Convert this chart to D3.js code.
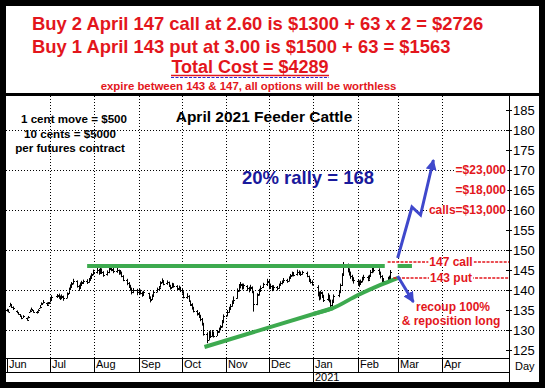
<!DOCTYPE html>
<html>
<head>
<meta charset="utf-8">
<script src="https://cdn.jsdelivr.net/npm/d3@7"></script>
<style>
body { margin: 0; background: #fff; }
svg { display: block; font-family: "Liberation Sans", Arial, sans-serif; }
</style>
</head>
<body>
<svg width="545" height="388"></svg>
<script>
// trading calendar (weekdays minus exchange holidays)
var firstDay = "2020-06-01", lastDay = "2021-02-24";
var holidays = ["2020-07-03", "2020-09-07", "2020-11-26", "2020-12-25", "2021-01-01", "2021-01-18", "2021-02-15"];

// daily bars, one line per month Jun..Feb
var opens = [
  135.1,135.0,136.0,136.2,135.7,134.8,134.4,133.9,133.5,133.1,133.0,133.0,134.5,135.0,134.9,134.5,134.7,135.5,136.3,136.8,136.8,136.5,
  137.0,137.7,138.4,138.8,138.2,137.9,138.3,138.0,139.2,140.3,140.9,141.7,142.2,140.9,140.5,141.4,141.9,142.3,142.1,142.7,143.1,143.9,
  144.5,144.9,144.3,145.1,144.5,143.9,144.5,145.3,145.8,145.1,144.7,145.0,144.3,144.5,143.5,142.6,141.7,141.1,140.4,139.5,140.1,
  139.5,139.9,139.3,138.9,139.2,138.1,137.7,138.7,139.6,140.3,140.8,141.9,142.3,141.7,141.9,141.1,140.7,141.3,141.0,140.3,140.7,
  140.1,139.5,138.2,138.5,137.2,136.3,135.5,134.8,134.1,133.5,132.8,131.4,129.1,127.6,129.1,128.6,129.3,128.6,129.7,130.2,130.9,132.1,
  133.6,134.5,135.3,136.1,137.0,138.0,139.9,140.7,141.3,140.5,141.0,140.4,140.1,140.6,139.4,136.6,138.9,139.9,140.7,141.5,
  142.0,140.7,141.0,140.3,140.7,140.5,141.3,141.7,142.1,142.5,142.3,143.1,143.7,144.2,143.9,144.6,144.1,144.0,144.3,143.5,142.3,142.0,
  140.8,139.1,138.0,139.3,138.5,137.7,138.7,137.3,136.2,137.1,138.7,139.5,141.3,143.9,146.2,145.1,144.2,143.5,142.9,
  142.2,141.9,141.5,142.1,142.8,143.3,142.7,143.5,144.6,145.2,145.0,144.2,143.4,142.5,142.3,142.8,142.9
];

var highs = [
  135.3,135.2,136.8,136.4,135.9,134.9,134.5,134.0,133.6,133.7,133.1,133.5,135.1,135.6,135.0,134.7,135.2,136.1,136.9,137.5,136.9,137.0,
  138.2,138.7,139.0,139.1,138.6,138.9,138.6,139.4,140.6,141.4,142.0,142.8,142.4,141.3,141.9,142.3,142.6,142.7,143.0,143.6,144.2,145.1,
  145.5,145.3,145.6,145.4,144.7,144.9,145.8,146.0,145.9,145.6,145.5,145.1,145.0,144.6,143.7,142.8,142.0,141.3,140.6,140.5,140.3,
  140.4,140.1,139.6,139.8,139.3,138.4,138.9,139.9,140.6,141.0,142.2,142.9,142.5,142.4,142.1,141.3,141.8,141.7,141.2,141.1,140.8,
  140.3,139.7,139.2,138.7,137.4,136.7,135.8,135.0,134.5,133.8,133.0,131.8,129.4,129.8,129.7,130.0,129.6,130.0,130.6,131.2,132.5,133.9,
  135.0,135.8,136.5,137.4,138.4,140.4,141.5,142.0,141.6,141.6,141.2,140.8,141.3,140.9,139.8,139.2,140.3,141.1,141.8,142.8,
  142.6,141.6,141.2,141.2,141.0,141.6,142.2,142.4,143.0,142.8,143.4,144.0,144.6,144.5,145.1,144.9,144.6,144.8,144.6,143.6,142.8,142.4,
  141.2,139.6,139.8,139.6,138.8,139.2,138.8,137.6,137.6,138.9,139.8,141.6,144.2,147.0,146.6,145.4,144.6,143.8,143.2,
  142.6,142.4,142.6,143.3,143.8,143.6,143.8,145.0,145.9,145.8,145.4,144.6,143.7,143.0,143.3,143.6,145.0
];

var lows = [
  134.6,134.4,135.9,135.5,135.0,134.2,133.8,133.3,132.7,133.0,132.3,132.9,134.4,134.9,134.3,134.1,134.6,135.4,136.2,136.6,136.0,136.4,
  136.9,137.5,138.0,137.8,137.5,137.7,137.3,137.9,139.0,140.0,140.6,141.4,140.6,139.8,140.3,141.0,141.5,141.5,141.8,142.3,143.0,143.7,
  144.1,143.8,144.0,144.0,143.3,143.6,144.2,145.0,144.7,144.2,144.3,143.8,143.9,143.2,142.2,141.2,140.5,139.8,138.9,139.2,138.7,
  139.0,138.9,138.3,138.6,137.9,136.9,137.5,138.5,139.4,139.9,140.6,141.7,141.2,141.3,140.8,140.1,140.5,140.6,139.9,139.9,139.5,
  139.1,137.9,137.8,137.0,136.0,135.1,134.4,133.6,133.0,132.2,131.1,128.6,126.7,127.4,128.0,128.3,128.1,128.5,129.3,129.9,130.6,131.7,
  133.4,134.3,135.2,135.8,136.6,137.8,139.6,140.4,140.1,140.2,139.8,139.4,139.9,139.2,134.6,136.2,138.6,139.7,140.5,141.0,
  140.2,140.3,139.7,140.0,139.9,140.3,141.0,141.4,141.8,141.8,142.1,142.8,143.4,143.4,143.6,143.9,143.5,143.8,143.2,142.1,141.6,141.1,
  138.4,137.4,137.6,138.0,137.0,137.3,136.9,135.6,135.9,136.8,138.2,139.2,141.0,143.6,144.4,143.6,142.8,142.2,141.6,
  141.2,140.8,141.3,141.9,142.4,142.2,142.6,143.4,144.2,144.4,143.8,142.9,142.0,141.8,142.2,142.5,142.7
];

var closes = [
  135.0,134.6,136.5,135.8,135.4,134.5,134.0,133.6,133.0,133.4,132.6,133.2,134.8,135.2,134.6,134.4,134.9,135.8,136.6,137.1,136.2,136.8,
  137.6,138.3,138.6,138.2,138.0,138.4,137.9,139.0,140.2,140.8,141.6,142.3,141.0,140.4,141.5,141.8,142.2,142.0,142.6,143.0,143.8,144.6,
  145.0,144.2,145.2,144.6,143.8,144.4,145.4,145.9,145.2,144.8,145.0,144.2,144.6,143.6,142.6,141.8,141.2,140.4,139.6,140.0,139.4,
  139.8,139.2,138.8,139.4,138.2,137.6,138.6,139.6,140.2,140.6,141.8,142.4,141.6,142.0,141.2,140.6,141.4,141.0,140.4,140.6,140.0,
  139.6,138.2,138.6,137.2,136.4,135.6,134.8,134.2,133.6,132.8,131.6,129.0,127.6,129.2,128.6,129.4,128.4,129.6,130.2,130.8,132.0,133.4,
  134.4,135.2,136.0,136.8,137.6,139.8,140.8,141.4,140.6,141.2,140.4,140.0,140.8,139.6,136.4,138.8,139.8,140.6,141.4,142.2,
  140.6,141.0,140.2,140.8,140.4,141.2,141.8,142.0,142.6,142.2,143.0,143.6,144.2,143.8,144.6,144.2,144.0,144.4,143.6,142.4,142.0,141.6,
  139.2,138.0,139.4,138.4,137.6,138.6,137.2,136.2,137.0,138.6,139.4,141.2,143.8,146.2,145.0,144.2,143.4,142.8,142.4,
  141.8,141.4,142.2,142.8,143.2,142.6,143.4,144.6,145.2,145.0,144.2,143.4,142.6,142.2,142.8,143.0,144.4
];

// axis labels
var monthStarts = ["2020-06-01", "2020-07-01", "2020-08-01", "2020-09-01", "2020-10-01", "2020-11-01",
                   "2020-12-01", "2021-01-01", "2021-02-01", "2021-03-01", "2021-04-01"];
var monthNames = ["Jun", "Jul", "Aug", "Sep", "Oct", "Nov", "Dec", "Jan", "Feb", "Mar", "Apr"];
var priceTicks = [125, 130, 135, 140, 145, 150, 155, 160, 165, 170, 175, 180, 185];
var gridPrices = [130, 140, 150, 160, 170, 180];

// drawn trend lines and arrows [date, price]
var resistance = [["2020-07-27", 146], ["2021-02-20", 146]];
var resistanceStub = [["2021-03-01", 146], ["2021-03-11", 146]];
var supportStraight = [["2020-10-17", 125.75], ["2021-01-15", 135.5]];
var supportCurve = [["2021-01-01", 134.0], ["2021-01-15", 135.5], ["2021-02-01", 138.7], ["2021-02-17", 141.3], ["2021-03-01", 143]];
var rallyArrow = [["2021-03-01", 148], ["2021-03-11", 160.75], ["2021-03-17", 158.75], ["2021-03-26", 172.5]];
var dropArrow = [["2021-03-01", 143.5], ["2021-03-12", 137]];
var strikes = [[147, "147 call", "2021-02-22"], [143, "143 put", "2021-02-26"]];
var callValues = [[170, "=$23,000"], [165, "=$18,000"], [160, "calls=$13,000"]];

var red = "#e3161c", green = "#3daa4f", blue = "#3f48cc";

var svg = d3.select("svg");
var plot = {left: 6, right: 509, top: 96, bottom: 358, row: 372, base: 382};

var parseDate = d3.timeParse("%Y-%m-%d"),
    fmt = d3.timeFormat("%Y-%m-%d");

var x = d3.scaleTime()
    .domain([parseDate("2020-06-01"), parseDate("2021-04-01")])
    .range([7, 442]);

var y = d3.scaleLinear()
    .domain([125, 185])
    .range([350, 110]);

// build trading days
var skip = new Set(holidays);
var days = d3.timeDay.range(parseDate(firstDay), d3.timeDay.offset(parseDate(lastDay), 1))
  .filter(function(d) { return d.getDay() > 0 && d.getDay() < 6 && !skip.has(fmt(d)); });
if (days.length != closes.length) console.error("days", days.length, "closes", closes.length);

var bars = days.map(function(d, i) {
  return {date: d, open: opens[i], high: highs[i], low: lows[i], close: closes[i]};
});

svg.append("rect").attr("width", 545).attr("height", 388).attr("fill", "#fff");

// grid
svg.append("g").selectAll("line")
  .data(gridPrices)
  .enter().append("line")
    .attr("x1", plot.left).attr("x2", plot.right)
    .attr("y1", function(d) { return Math.round(y(d)) + 0.5; })
    .attr("y2", function(d) { return Math.round(y(d)) + 0.5; })
    .attr("stroke", "#000")
    .attr("stroke-dasharray", "1,2");

svg.append("g").selectAll("line")
  .data(monthStarts.slice(1))
  .enter().append("line")
    .attr("x1", function(d) { return Math.round(x(parseDate(d))) + 0.5; })
    .attr("x2", function(d) { return Math.round(x(parseDate(d))) + 0.5; })
    .attr("y1", plot.top).attr("y2", plot.bottom)
    .attr("stroke", "#000")
    .attr("stroke-dasharray", "1,2");

// axis frame
var axis = svg.append("g").attr("stroke", "#000").attr("stroke-width", 1);
axis.append("line").attr("x1", plot.left).attr("x2", plot.right).attr("y1", plot.bottom + 0.5).attr("y2", plot.bottom + 0.5);
axis.append("line").attr("x1", plot.left).attr("x2", plot.right).attr("y1", plot.row + 0.5).attr("y2", plot.row + 0.5);
axis.append("line").attr("x1", plot.right + 0.5).attr("x2", plot.right + 0.5).attr("y1", plot.top).attr("y2", plot.base);

axis.selectAll(".mtick")
  .data(monthStarts)
  .enter().append("line")
    .attr("x1", function(d) { return Math.round(x(parseDate(d))) + 0.5; })
    .attr("x2", function(d) { return Math.round(x(parseDate(d))) + 0.5; })
    .attr("y1", plot.bottom).attr("y2", plot.row);

axis.append("line")
  .attr("x1", Math.round(x(parseDate("2021-01-01"))) + 0.5)
  .attr("x2", Math.round(x(parseDate("2021-01-01"))) + 0.5)
  .attr("y1", plot.row).attr("y2", plot.base);

axis.selectAll(".ptick")
  .data(priceTicks)
  .enter().append("line")
    .attr("x1", plot.right - 3).attr("x2", plot.right + 3)
    .attr("y1", function(d) { return Math.round(y(d)) + 0.5; })
    .attr("y2", function(d) { return Math.round(y(d)) + 0.5; });

svg.append("g").selectAll("text")
  .data(priceTicks)
  .enter().append("text")
    .attr("x", plot.right + 4)
    .attr("y", function(d) { return y(d); })
    .attr("dy", "0.36em")
    .attr("font-size", 13)
    .text(function(d) { return d; });

svg.append("g").selectAll("text")
  .data(monthStarts)
  .enter().append("text")
    .attr("x", function(d) { return Math.round(x(parseDate(d))) + 2; })
    .attr("y", 368)
    .attr("font-size", 11)
    .text(function(d, i) { return monthNames[i]; });

svg.append("text")
  .attr("x", Math.round(x(parseDate("2021-01-01"))) + 2)
  .attr("y", 381)
  .attr("font-size", 11)
  .text("2021");

svg.append("text")
  .attr("x", 515).attr("y", 370)
  .attr("font-size", 11)
  .text("Day");

// price bars (OHLC)
var barG = svg.append("g").attr("stroke", "#000").attr("stroke-width", 1);
function bx(d) { return Math.round(x(d.date)); }
barG.selectAll(".hl")
  .data(bars)
  .enter().append("line")
    .attr("x1", function(d) { return bx(d) + 0.5; })
    .attr("x2", function(d) { return bx(d) + 0.5; })
    .attr("y1", function(d) { return y(d.high); })
    .attr("y2", function(d) { return y(d.low); });
barG.selectAll(".op")
  .data(bars)
  .enter().append("line")
    .attr("x1", function(d) { return bx(d) - 1; })
    .attr("x2", function(d) { return bx(d); })
    .attr("y1", function(d) { return Math.round(y(d.open)) + 0.5; })
    .attr("y2", function(d) { return Math.round(y(d.open)) + 0.5; });
barG.selectAll(".cl")
  .data(bars)
  .enter().append("line")
    .attr("x1", function(d) { return bx(d) + 1; })
    .attr("x2", function(d) { return bx(d) + 2; })
    .attr("y1", function(d) { return Math.round(y(d.close)) + 0.5; })
    .attr("y2", function(d) { return Math.round(y(d.close)) + 0.5; });

// trend lines
var line = d3.line()
  .x(function(d) { return x(parseDate(d[0])); })
  .y(function(d) { return y(d[1]); });

[resistance, resistanceStub, supportStraight].forEach(function(pts) {
  svg.append("path").attr("d", line(pts))
    .attr("fill", "none").attr("stroke", green).attr("stroke-width", 4);
});
// the curved part starts on the straight segment so the join is smooth
svg.append("path").attr("d", d3.line()
    .x(function(d) { return x(parseDate(d[0])); })
    .y(function(d) { return y(d[1]); })
    .curve(d3.curveMonotoneX)(supportCurve))
  .attr("fill", "none").attr("stroke", green).attr("stroke-width", 4);

// strike lines
strikes.forEach(function(s) {
  var x0 = x(parseDate(s[2]));
  svg.append("line")
    .attr("x1", x0).attr("x2", plot.right)
    .attr("y1", y(s[0])).attr("y2", y(s[0]))
    .attr("stroke", red).attr("stroke-width", 1.5)
    .attr("stroke-dasharray", "3,1.3");
  var t = svg.append("text")
    .attr("x", 451).attr("y", y(s[0]))
    .attr("dy", "0.36em")
    .attr("text-anchor", "middle")
    .attr("font-size", 12).attr("font-weight", "bold")
    .attr("fill", red)
    .text(s[1]);
  var bb = t.node().getBBox();
  svg.insert("rect", function() { return t.node(); })
    .attr("x", bb.x - 1).attr("y", y(s[0]) - 3).attr("width", bb.width + 2).attr("height", 6)
    .attr("fill", "#fff");
});

// right side call values, on white so the grid stops at the text
svg.append("g").selectAll("text")
  .data(callValues)
  .enter().append("text")
    .attr("x", plot.right - 3)
    .attr("y", function(d) { return y(d[0]) + 4; })
    .attr("text-anchor", "end")
    .attr("font-size", 12).attr("font-weight", "bold")
    .attr("fill", red)
    .text(function(d) { return d[1]; })
    .each(function() {
      var bb = this.getBBox();
      d3.select(this.parentNode).insert("rect", function() { return this; }.bind(this))
        .attr("x", bb.x - 1).attr("y", bb.y + 2).attr("width", bb.width + 2).attr("height", bb.height - 4)
        .attr("fill", "#fff");
    });

// arrows
svg.append("defs").append("marker")
    .attr("id", "head")
    .attr("viewBox", "0 0 10 10")
    .attr("refX", 9).attr("refY", 5)
    .attr("markerWidth", 11).attr("markerHeight", 11)
    .attr("markerUnits", "userSpaceOnUse")
    .attr("orient", "auto")
  .append("path")
    .attr("d", "M0,0L10,5L0,10z")
    .attr("fill", blue);

[rallyArrow, dropArrow].forEach(function(pts) {
  svg.append("path").attr("d", line(pts))
    .attr("fill", "none").attr("stroke", blue).attr("stroke-width", 3)
    .attr("stroke-linejoin", "miter")
    .attr("marker-end", "url(#head)");
});

svg.append("text").attr("x", 453).attr("y", 311)
  .attr("text-anchor", "middle").attr("font-size", 12).attr("font-weight", "bold").attr("fill", red)
  .text("recoup 100%");
svg.append("text").attr("x", 451).attr("y", 325)
  .attr("text-anchor", "middle").attr("font-size", 12).attr("font-weight", "bold").attr("fill", red)
  .text("& reposition long");

// chart notes
svg.append("text").attr("x", 264).attr("y", 122)
  .attr("text-anchor", "middle").attr("font-size", 15.5).attr("font-weight", "bold")
  .text("April 2021 Feeder Cattle");

svg.append("text").attr("x", 308).attr("y", 184)
  .attr("text-anchor", "middle").attr("font-size", 18.5).attr("font-weight", "bold")
  .attr("fill", "#1a1a9c")
  .text("20% rally = 168");

var note = ["1 cent move = $500", "10 cents = $5000", "per futures contract"];
svg.append("g").selectAll("text")
  .data(note)
  .enter().append("text")
    .attr("x", function(d, i) { return i == 0 ? 74 : 70; })
    .attr("y", function(d, i) { return [123, 138, 152][i]; })
    .attr("text-anchor", "middle")
    .attr("font-size", 11.6).attr("font-weight", "bold")
    .text(function(d) { return d; });

// header
svg.append("text").attr("x", 32).attr("y", 29.5)
  .attr("font-size", 18.4).attr("font-weight", "bold").attr("fill", red)
  .text("Buy 2 April 147 call at 2.60 is $1300 + 63 x 2 = $2726");
svg.append("text").attr("x", 32).attr("y", 52.5)
  .attr("font-size", 18.4).attr("font-weight", "bold").attr("fill", red)
  .text("Buy 1 April 143 put at 3.00 is $1500 + 63 = $1563");
svg.append("text").attr("x", 250).attr("y", 73)
  .attr("text-anchor", "middle")
  .attr("font-size", 18).attr("font-weight", "bold").attr("fill", red)
  .text("Total Cost = $4289");
svg.append("line").attr("x1", 171).attr("x2", 329).attr("y1", 75.5).attr("y2", 75.5)
  .attr("stroke", red).attr("stroke-width", 1.3);
svg.append("line").attr("x1", 171).attr("x2", 329).attr("y1", 77.5).attr("y2", 77.5)
  .attr("stroke", "#2a2ad0").attr("stroke-width", 1).attr("stroke-dasharray", "3,1.5");
svg.append("text").attr("x", 248.5).attr("y", 89.5)
  .attr("text-anchor", "middle")
  .attr("font-size", 11.4).attr("font-weight", "bold").attr("fill", red)
  .text("expire between 143 & 147, all options will be worthless");

// outer frame and divider
svg.append("line").attr("x1", 0).attr("x2", 545).attr("y1", 94.5).attr("y2", 94.5)
  .attr("stroke", "#000").attr("stroke-width", 3);
svg.append("rect")
  .attr("x", 3).attr("y", 3).attr("width", 539).attr("height", 382)
  .attr("fill", "none").attr("stroke", "#000").attr("stroke-width", 6);
</script>
</body>
</html>
